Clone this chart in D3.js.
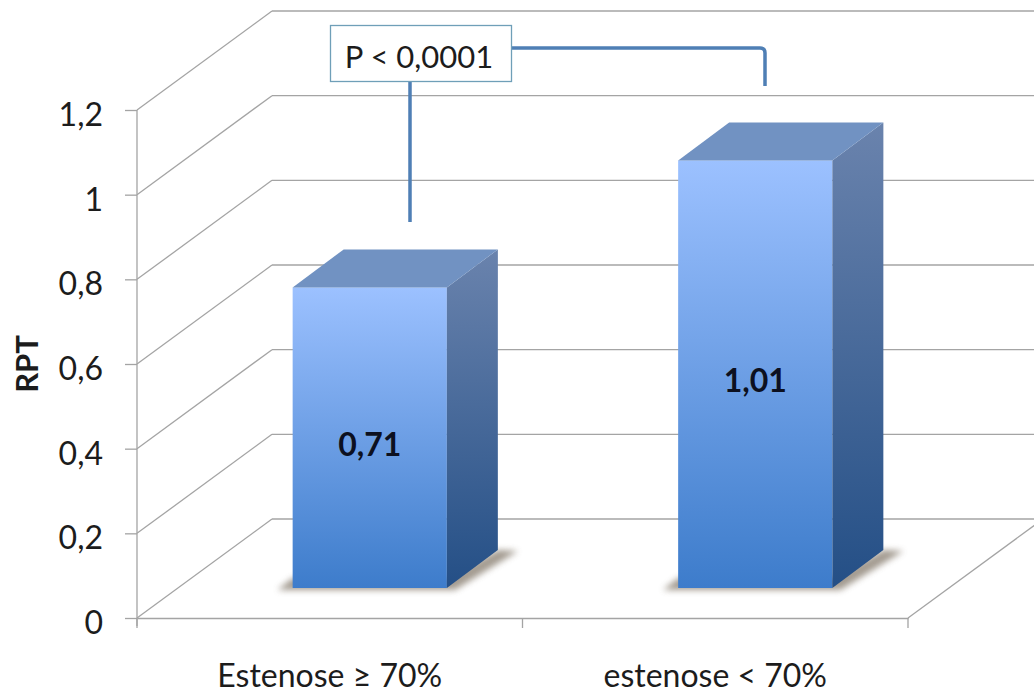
<!DOCTYPE html>
<html>

<head>
  <meta charset="utf-8">
  <title>RPT</title>
  <script src="https://d3js.org/d3.v7.min.js"></script>
  <style>
    html, body { margin: 0; padding: 0; background: #fff; overflow: hidden; }
    svg { display: block; }
    text { font-family: Lato, "Open Sans", sans-serif; fill: #1c1c1c; }
  </style>
</head>

<body>
  <div id="chart"></div>

  <script>
    var categories = ["Estenose \u2265 70%", "estenose < 70%"];
    var values = [0.71, 1.01];
    var valueLabels = ["0,71", "1,01"];
    var yTicks = [0, 0.2, 0.4, 0.6, 0.8, 1, 1.2];
    var pLabel = "P < 0,0001";

    var width = 1034, height = 693;

    // front plane of the 3d box
    var x = d3.scaleBand().domain(categories).range([137, 908]).paddingInner(0.6).paddingOuter(0.3);
    var y = d3.scaleLinear().domain([0, 1.2]).range([618, 110]);
    var comma = function (d) { return String(d).replace(".", ","); };

    // depth offsets: back wall, bar front face, bar depth
    var wall = { dx: 135, dy: -99 };
    var barFront = { dx: 40, dy: -30 };
    var barDepth = { dx: 51, dy: -38 };

    var svg = d3.select("#chart").append("svg")
      .attr("width", width)
      .attr("height", height)
      .attr("viewBox", "0 0 " + width + " " + height);

    var defs = svg.append("defs");

    function gradient(id, top, bottom) {
      var g = defs.append("linearGradient").attr("id", id)
        .attr("x1", 0).attr("y1", 0).attr("x2", 0).attr("y2", 1);
      g.append("stop").attr("offset", "0%").attr("stop-color", top);
      g.append("stop").attr("offset", "100%").attr("stop-color", bottom);
    }
    gradient("front", "#9cc1ff", "#3d7ccb");
    gradient("side", "#6a83ad", "#244f86");

    defs.append("filter").attr("id", "blur")
      .attr("x", "-20%").attr("y", "-20%").attr("width", "140%").attr("height", "140%")
      .append("feGaussianBlur").attr("stdDeviation", 3);

    // walls
    var grid = svg.append("g")
      .attr("fill", "none")
      .attr("stroke", "#a4a4a4")
      .attr("stroke-width", 1.3);

    grid.selectAll(".side-line")
      .data(yTicks)
      .enter().append("line")
      .attr("class", "side-line")
      .attr("x1", 137)
      .attr("y1", function (d) { return y(d); })
      .attr("x2", 137 + wall.dx)
      .attr("y2", function (d) { return y(d) + wall.dy; });

    grid.selectAll(".back-line")
      .data(yTicks)
      .enter().append("line")
      .attr("class", "back-line")
      .attr("x1", 137 + wall.dx)
      .attr("y1", function (d) { return y(d) + wall.dy; })
      .attr("x2", width)
      .attr("y2", function (d) { return y(d) + wall.dy; });

    // right edge of the floor
    grid.append("line")
      .attr("x1", 908)
      .attr("y1", y(0))
      .attr("x2", 908 + wall.dx)
      .attr("y2", y(0) + wall.dy);

    // axes
    var yAxis = svg.append("g")
      .attr("transform", "translate(137,0)")
      .call(d3.axisLeft(y).tickValues(yTicks).tickFormat(comma).tickSize(12).tickPadding(22));

    var xAxis = svg.append("g")
      .attr("transform", "translate(0," + y(0) + ")")
      .call(d3.axisBottom(x).tickSize(0).tickPadding(46));

    yAxis.select(".domain").attr("d", "M0," + y(1.2) + "V" + (y(0) + 8));
    xAxis.selectAll(".tick line").remove();

    svg.selectAll("g .domain").attr("stroke", "#a4a4a4").attr("stroke-width", 1.3);
    yAxis.selectAll(".tick line").attr("stroke", "#a4a4a4").attr("stroke-width", 1.3);
    yAxis.selectAll("text").style("font-size", "32px").attr("dy", "0.48em");
    xAxis.selectAll("text").style("font-size", "32px");

    // ticks between the categories
    xAxis.selectAll(".band-tick")
      .data(d3.range(categories.length + 1))
      .enter().append("line")
      .attr("class", "band-tick")
      .attr("x1", function (d) { return x.range()[0] + d * x.step(); })
      .attr("x2", function (d) { return x.range()[0] + d * x.step(); })
      .attr("y1", 0)
      .attr("y2", 10)
      .attr("stroke", "#a4a4a4")
      .attr("stroke-width", 1.3);

    // bars
    var data = categories.map(function (c, i) {
      return { name: c, value: values[i], label: valueLabels[i] };
    });

    var bars = svg.selectAll(".bar")
      .data(data)
      .enter().append("g")
      .attr("class", "bar")
      .attr("transform", "translate(" + barFront.dx + "," + barFront.dy + ")");

    function poly(pts) { return pts.map(function (p) { return p.join(","); }).join(" "); }

    // shadow on the floor
    bars.append("polygon")
      .attr("points", function (d) {
        var l = x(d.name), r = l + x.bandwidth(), b = y(0);
        return poly([[l - 15, b + 2], [r + 8, b + 2], [r + barDepth.dx + 20, b + barDepth.dy + 1], [r + barDepth.dx, b + barDepth.dy], [r, b - 10], [l, b - 10]]);
      })
      .attr("fill", "#8c8275")
      .attr("opacity", 0.8)
      .attr("filter", "url(#blur)");

    bars.append("rect")
      .attr("x", function (d) { return x(d.name); })
      .attr("y", function (d) { return y(d.value); })
      .attr("width", x.bandwidth())
      .attr("height", function (d) { return y(0) - y(d.value); })
      .attr("fill", "url(#front)");

    bars.append("polygon")
      .attr("points", function (d) {
        var r = x(d.name) + x.bandwidth();
        return poly([[r, y(d.value)], [r + barDepth.dx, y(d.value) + barDepth.dy], [r + barDepth.dx, y(0) + barDepth.dy], [r, y(0)]]);
      })
      .attr("fill", "url(#side)");

    bars.append("polygon")
      .attr("points", function (d) {
        var l = x(d.name), r = l + x.bandwidth(), t = y(d.value);
        return poly([[l, t], [r, t], [r + barDepth.dx, t + barDepth.dy], [l + barDepth.dx, t + barDepth.dy]]);
      })
      .attr("fill", "#7192c2");

    bars.append("text")
      .attr("x", function (d) { return x(d.name) + x.bandwidth() / 2; })
      .attr("y", function (d) { return (y(d.value) + y(0)) / 2 + 18; })
      .attr("text-anchor", "middle")
      .style("font-size", "32px")
      .style("font-weight", "700")
      .style("fill", "#0c1020")
      .text(function (d) { return d.label; });

    // axis title
    svg.append("text")
      .attr("transform", "translate(38,364) rotate(-90)")
      .attr("text-anchor", "middle")
      .style("font-size", "31px")
      .style("font-weight", "700")
      .text("RPT");

    // significance bracket
    svg.append("path")
      .attr("d", "M410,82V222M511,48H760Q765,48 765,53V86")
      .attr("fill", "none")
      .attr("stroke", "#4f7fb5")
      .attr("stroke-width", 3.5);

    svg.append("rect")
      .attr("x", 330.5)
      .attr("y", 25.5)
      .attr("width", 181)
      .attr("height", 56)
      .attr("fill", "#fff")
      .attr("stroke", "#6f9fb8")
      .attr("stroke-width", 1.3);

    svg.append("text")
      .attr("x", 419)
      .attr("y", 68)
      .attr("text-anchor", "middle")
      .style("font-size", "31px")
      .text(pLabel);
  </script>
</body>

</html>
